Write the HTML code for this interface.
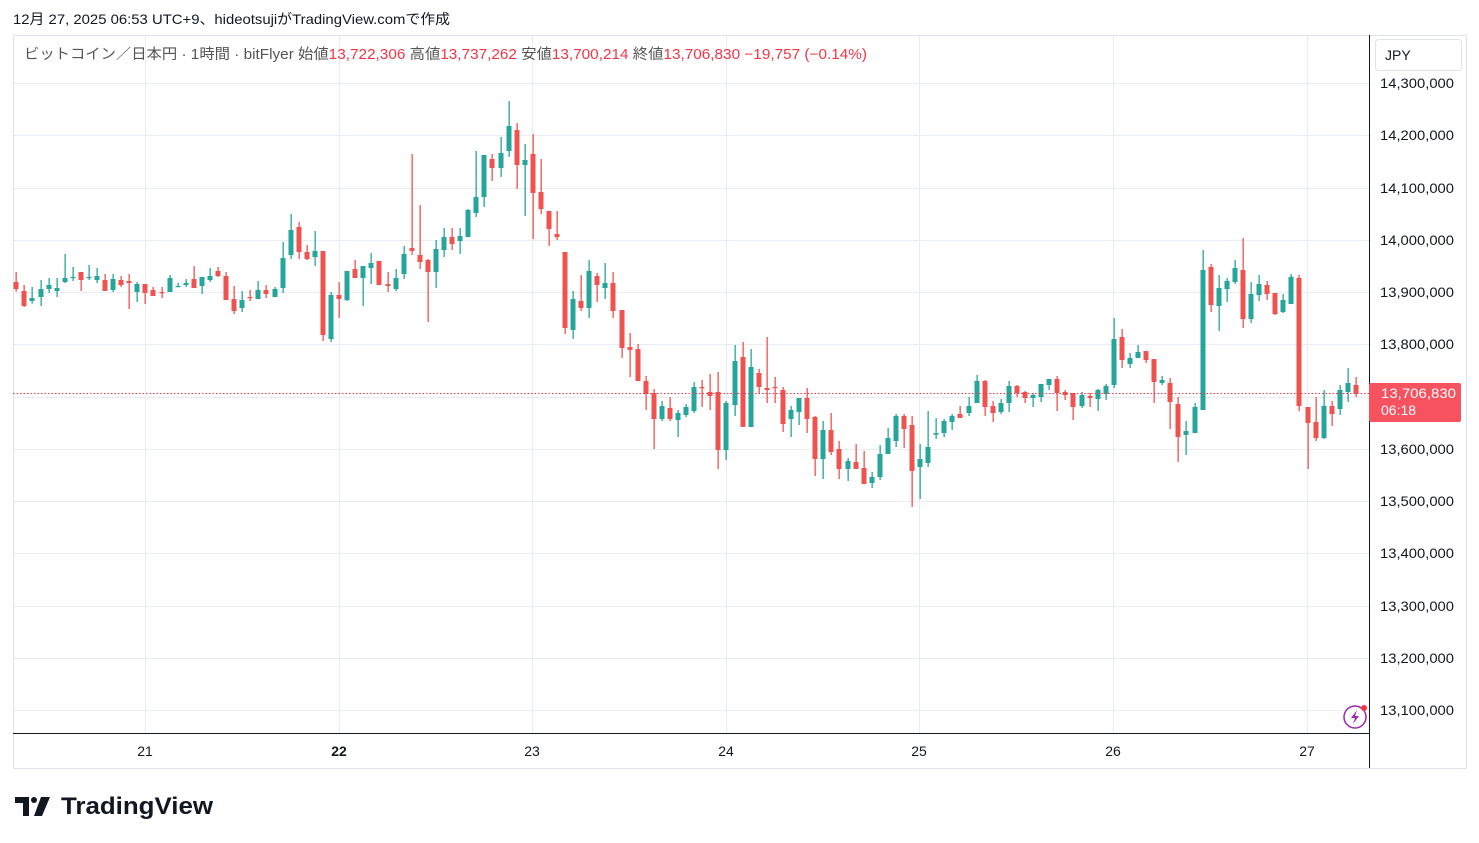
<!DOCTYPE html>
<html><head><meta charset="utf-8">
<style>
body{margin:0;background:#fff;width:1479px;height:843px;overflow:hidden;font-family:"Liberation Sans","Noto Sans CJK JP",sans-serif;}
svg{position:absolute;left:0;top:0}
</style></head><body>
<svg id="s" width="1479" height="843" xmlns="http://www.w3.org/2000/svg">
<rect x="0" y="0" width="1479" height="843" fill="#fff"/>
<g id="grid" stroke="#e7edf3" stroke-width="1"></g>
<rect x="13.5" y="35.5" width="1453" height="733" fill="none" stroke="#e0e3eb"/>
<g id="candles"></g>
<line x1="13" y1="393.5" x2="1369" y2="393.5" stroke="#f23645" stroke-width="1" stroke-dasharray="1.5,2"/>
<line x1="1369.5" y1="35" x2="1369.5" y2="768" stroke="#131722"/>
<line x1="13" y1="733.5" x2="1369" y2="733.5" stroke="#131722"/>
<g font-size="14" fill="#131722" font-family="Liberation Sans, sans-serif" id="plabels"></g>
<g font-size="14" fill="#131722" text-anchor="middle" font-family="Liberation Sans, sans-serif">
<text x="145" y="756">21</text><text x="339" y="756" font-weight="bold">22</text><text x="532" y="756">23</text><text x="726" y="756">24</text><text x="919" y="756">25</text><text x="1113" y="756">26</text><text x="1307" y="756">27</text>
</g>
<rect x="1375.5" y="39.5" width="86" height="31" rx="3" fill="#fff" stroke="#e0e3eb"/>
<text x="1385" y="60" font-size="14" fill="#131722" font-family="Liberation Sans, sans-serif">JPY</text>
<rect x="1369" y="383" width="92" height="39" rx="2" fill="#f7525f"/>
<text x="1381" y="398" font-size="14" fill="#fff" font-family="Liberation Sans, sans-serif" textLength="75" lengthAdjust="spacingAndGlyphs">13,706,830</text>
<text x="1381" y="415" font-size="14" fill="#fff" font-family="Liberation Sans, sans-serif">06:18</text>
<circle cx="1355" cy="717" r="11" fill="#fff" stroke="#9c27b0" stroke-width="1.5"/>
<path d="M1357 710 L1351 718 L1355 718 L1353 724 L1359 716 L1355 716 Z" fill="#9c27b0"/>
<circle cx="1364" cy="708" r="3" fill="#f23645"/>
<text x="13" y="24" font-size="14" fill="#131722" textLength="437" lengthAdjust="spacingAndGlyphs">12月 27, 2025 06:53 UTC+9、hideotsujiがTradingView.comで作成</text>
<text x="24" y="59" font-size="14.5" textLength="843" lengthAdjust="spacingAndGlyphs"><tspan fill="#555">ビットコイン／日本円 · 1時間 · bitFlyer </tspan><tspan fill="#555"> 始値</tspan><tspan fill="#f23645">13,722,306</tspan><tspan fill="#555"> 高値</tspan><tspan fill="#f23645">13,737,262</tspan><tspan fill="#555"> 安値</tspan><tspan fill="#f23645">13,700,214</tspan><tspan fill="#555"> 終値</tspan><tspan fill="#f23645">13,706,830 −19,757 (−0.14%)</tspan></text>
<g fill="#131722">
<path d="M15 797 H29 V816 H23 V803 H15 Z"/>
<circle cx="34" cy="800" r="3"/>
<path d="M41 797 H50 L42 816 H34 Z"/>
</g>
<text x="61" y="814" font-size="24" font-weight="bold" fill="#131722" textLength="152" lengthAdjust="spacingAndGlyphs">TradingView</text>
</svg>
<script>
var ns="http://www.w3.org/2000/svg";
function el(p,t,a){var e=document.createElementNS(ns,t);for(var k in a)e.setAttribute(k,a[k]);p.appendChild(e);return e;}
var g=document.getElementById('grid');
for(var i=0;i<13;i++){var y=Math.round(83+i*52.25)+0.5;el(g,'line',{x1:13,y1:y,x2:1369,y2:y});}
[145,339,532,726,919,1113,1307].forEach(function(x){el(g,'line',{x1:x+0.5,y1:35,x2:x+0.5,y2:733});});
var pl=document.getElementById('plabels');
for(var i=0;i<13;i++){var v=14300000-i*100000;var t=el(pl,'text',{x:1380,y:Math.round(83+i*52.25)+5,textLength:74,lengthAdjust:'spacingAndGlyphs'});t.textContent=v.toLocaleString('en-US');}
var d1=[["r",576,597,546,605],["r",603,648,585,651],["g",624,633,591,641],["g",597,621,570,648],["g",585,597,564,609],["g",594,603,564,621],["g",564,576,492,579],["g",561,564,531,573],["r",546,570,546,603],["g",561,564,525,570],["g",558,570,534,579],["r",570,603,552,603],["g",567,600,552,606],["r",570,585,558,591],["r",573,579,552,657],["g",582,606,576,636],["r",582,609,582,642],["r",600,618,591,618],["r",606,608,591,624],["g",564,606,555,606],["g",588,591,579,591],["g",579,585,567,591],["r",567,594,528,594],["g",561,588,561,612],["g",558,570,534,576],["r",543,558,531,561],["r",558,630,546,630],["r",627,663,588,672],["g",630,654,603,666],["r",621,624,600,633],["g",600,627,573,627],["r",600,612,585,624],["g",597,621,591,621],["g",504,594,456,609],["g",420,495,372,507],["r",411,486,396,507],["r",486,507,465,510],["g",483,501,423,528],["r",483,735,483,753],["g",615,747,606,756],["r",615,627,576,684],["g",543,630,543,633],["r",537,564,510,564],["g",528,564,528,648],["g",519,534,489,582],["r",513,585,513,585],["r",582,588,546,606],["g",564,597,537,603],["g",492,552,468,567],["r",474,483,192,495],["r",495,516,345,537],["r",510,546,507,696],["g",477,546,450,594],["g",441,480,414,501],["r",441,462,414,480],["g",438,453,414,492],["g",360,441,357,441]];
var d2=[["g",321,369,183,381],["g",195,321,195,351],["r",207,234,192,273],["g",189,234,141,261],["g",108,183,33,201],["r",120,225,99,297],["g",210,225,162,378],["r",192,309,132,447],["r",306,357,207,372],["r",363,417,363,468],["r",432,441,363,450],["r",486,714,486,732],["g",627,720,603,747],["r",633,654,555,663],["g",543,654,510,684],["r",558,585,549,636],["g",579,594,519,627],["r",579,663,546,684],["r",660,774,660,804],["r",771,780,729,861],["r",777,873,762,873],["r",873,912,858,960],["r",909,987,897,1077],["g",948,987,933,993],["r",954,987,921,993],["g",969,990,960,1041],["g",951,975,942,981],["g",891,963,876,969],["r",891,893,870,951],["r",906,918,852,960],["r",906,1080,846,1137],["g",939,1080,933,1110],["g",813,945,765,978],["r",801,1011,756,1011],["g",831,1011,777,1011],["r",849,891,837,909],["r",894,900,741,939],["r",891,893,861,939],["r",900,1002,891,1026],["g",960,987,948,1041],["g",924,966,924,1005],["r",924,987,894,1029],["r",981,1107,978,1158],["g",1020,1107,993,1167],["r",1020,1086,969,1095],["r",1077,1137,1053,1167],["g",1113,1137,1104,1173],["r",1116,1137,1062,1137],["r",1134,1182,1083,1182],["g",1161,1179,1146,1194],["g",1092,1161,1065,1170],["g",1044,1092,1014,1092],["g",978,1053,972,1071],["r",978,1017,972,1074],["r",1005,1143,978,1251]];
var d3=[["g",687,711,642,807],["g",651,699,543,711],["g",609,614,564,627],["g",573,609,567,621],["g",558,576,552,600],["r",552,564,528,564],["g",528,549,501,558],["g",453,519,435,519],["r",453,531,450,558],["r",528,549,513,576],["g",519,546,507,552],["g",468,519,453,546],["r",468,489,465,501],["r",486,504,483,519],["g",495,504,489,531],["g",462,501,462,516],["g",447,465,447,480],["r",447,489,438,543],["r",486,495,480,510],["r",489,531,489,570],["g",495,528,486,534],["r",498,504,489,531],["g",480,507,477,543],["g",468,492,462,510],["g",327,465,264,474],["r",321,390,297,414],["g",384,402,369,414],["g",366,384,345,384],["r",363,390,363,399],["r",387,456,387,519],["g",450,459,438,465],["r",459,516,444,597],["r",522,621,501,696],["g",603,615,573,675],["g",531,609,519,609],["g",120,540,60,540],["r",111,225,102,246],["g",174,228,135,303],["g",153,177,144,216],["g",114,156,90,162],["r",120,267,24,294],["g",192,267,156,279],["g",162,195,135,213],["r",165,192,153,210],["r",189,252,189,255],["g",210,246,192,249],["g",141,222,132,222],["r",144,528,135,543],["r",531,579,531,717],["r",576,624,501,633],["g",528,624,480,627],["r",528,552,513,588],["g",480,537,465,555],["g",459,486,414,516],["r",465,492,441,501]];
var all=[];d1.forEach(function(c){all.push([c,90]);});d2.forEach(function(c){all.push([c,90]);});d3.forEach(function(c){all.push([c,230]);});
var cg=document.getElementById('candles');
all.forEach(function(a,i){var c=a[0],o=a[1];var x=16.3+i*8.07;var col=c[0]=="g"?"#26a69a":"#ef5350";
var b1=o+c[1]/3,b2=o+c[2]/3,w1=o+c[3]/3,w2=o+c[4]/3;
el(cg,'rect',{x:(Math.round(x)-0.5),y:w1,width:1.3,height:Math.max(w2-w1,1),fill:col});
el(cg,'rect',{x:Math.round(x)-2.5,y:b1,width:5,height:Math.max(b2-b1,1.2),fill:col});});
</script>
</body></html>
